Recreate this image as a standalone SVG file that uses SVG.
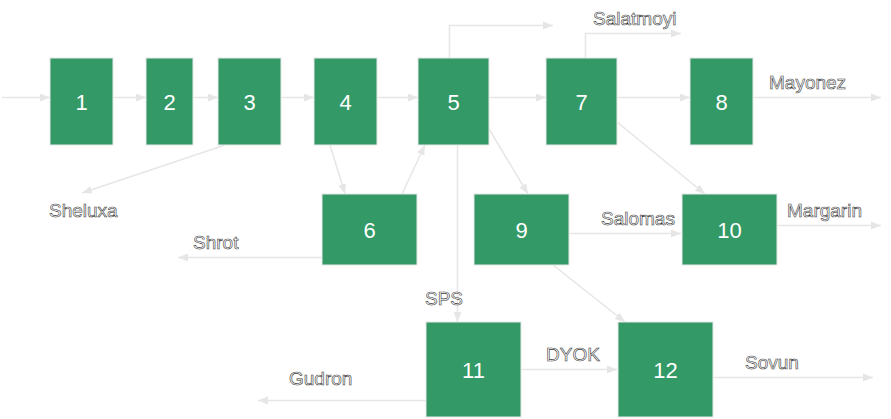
<svg xmlns="http://www.w3.org/2000/svg" width="891" height="419" viewBox="0 0 891 419">
<style>
.box{fill:#339966;stroke:#e8e8e8;stroke-width:1}
.num{font-family:"Liberation Sans",Arial,sans-serif;font-size:22px;fill:#fff;text-anchor:middle}
.lbl{font-family:"Liberation Sans",Arial,sans-serif;font-size:19px;fill:#fff;stroke:#3a3a3a;stroke-width:0.6}
.con{fill:none;stroke:#e6e6e6;stroke-width:1.5;marker-end:url(#ah)}
</style>
<defs>
<marker id="ah" markerUnits="userSpaceOnUse" markerWidth="11" markerHeight="9" refX="10" refY="4" orient="auto">
<path d="M0,0 L10,4 L0,8 z" fill="#e6e6e6"/>
</marker>
</defs>
<g id="connectors">
<path class="con" d="M2,97.5 H50"/>
<path class="con" d="M113,97.5 H146"/>
<path class="con" d="M193,97.5 H218"/>
<path class="con" d="M281,97.5 H314"/>
<path class="con" d="M377,97.5 H418"/>
<path class="con" d="M489,97.5 H546"/>
<path class="con" d="M617,97.5 H690"/>
<path class="con" d="M753,97.5 H881"/>
<path class="con" d="M449.5,58 V25.5 H553"/>
<path class="con" d="M585.5,58 V33.5 H681"/>
<path class="con" d="M225,145 L82,193"/>
<path class="con" d="M330,145 L345,194"/>
<path class="con" d="M402,194 L425,145"/>
<path class="con" d="M322,257.5 H178"/>
<path class="con" d="M457.5,145 V322"/>
<path class="con" d="M489,129 L528,194"/>
<path class="con" d="M617,122 L705,194"/>
<path class="con" d="M569,233.5 H681"/>
<path class="con" d="M777,225.5 H881"/>
<path class="con" d="M553,265 L625,322"/>
<path class="con" d="M426,400.5 H258"/>
<path class="con" d="M521,369.5 H617"/>
<path class="con" d="M713,377.5 H873"/>
</g>
<g id="n1"><rect class="box" x="50" y="58" width="63" height="87"/><text class="num" x="81.5" y="109.5">1</text></g>
<g id="n2"><rect class="box" x="146" y="58" width="47" height="87"/><text class="num" x="169.5" y="109.5">2</text></g>
<g id="n3"><rect class="box" x="218" y="58" width="63" height="87"/><text class="num" x="249.5" y="109.5">3</text></g>
<g id="n4"><rect class="box" x="314" y="58" width="63" height="87"/><text class="num" x="345.5" y="109.5">4</text></g>
<g id="n5"><rect class="box" x="418" y="58" width="71" height="87"/><text class="num" x="453.5" y="109.5">5</text></g>
<g id="n7"><rect class="box" x="546" y="58" width="71" height="87"/><text class="num" x="581.5" y="109.5">7</text></g>
<g id="n8"><rect class="box" x="690" y="58" width="63" height="87"/><text class="num" x="721.5" y="109.5">8</text></g>
<g id="n6"><rect class="box" x="322" y="194" width="95" height="71"/><text class="num" x="369.5" y="237.5">6</text></g>
<g id="n9"><rect class="box" x="474" y="194" width="95" height="71"/><text class="num" x="521.5" y="237.5">9</text></g>
<g id="n10"><rect class="box" x="682" y="194" width="95" height="71"/><text class="num" x="729.5" y="237.5">10</text></g>
<g id="n11"><rect class="box" x="426" y="322" width="95" height="95"/><text class="num" x="473.5" y="377.5">11</text></g>
<g id="n12"><rect class="box" x="618" y="322" width="95" height="95"/><text class="num" x="665.5" y="377.5">12</text></g>
<g id="labels">
<text class="lbl" x="593" y="25">Salatmoyi</text>
<text class="lbl" x="769" y="89">Mayonez</text>
<text class="lbl" x="49" y="217">Sheluxa</text>
<text class="lbl" x="193" y="249">Shrot</text>
<text class="lbl" x="601" y="225">Salomas</text>
<text class="lbl" x="787" y="217">Margarin</text>
<text class="lbl" x="425" y="305">SPS</text>
<text class="lbl" x="289" y="385">Gudron</text>
<text class="lbl" x="546" y="361">DYOK</text>
<text class="lbl" x="745" y="369">Sovun</text>
</g>
</svg>
